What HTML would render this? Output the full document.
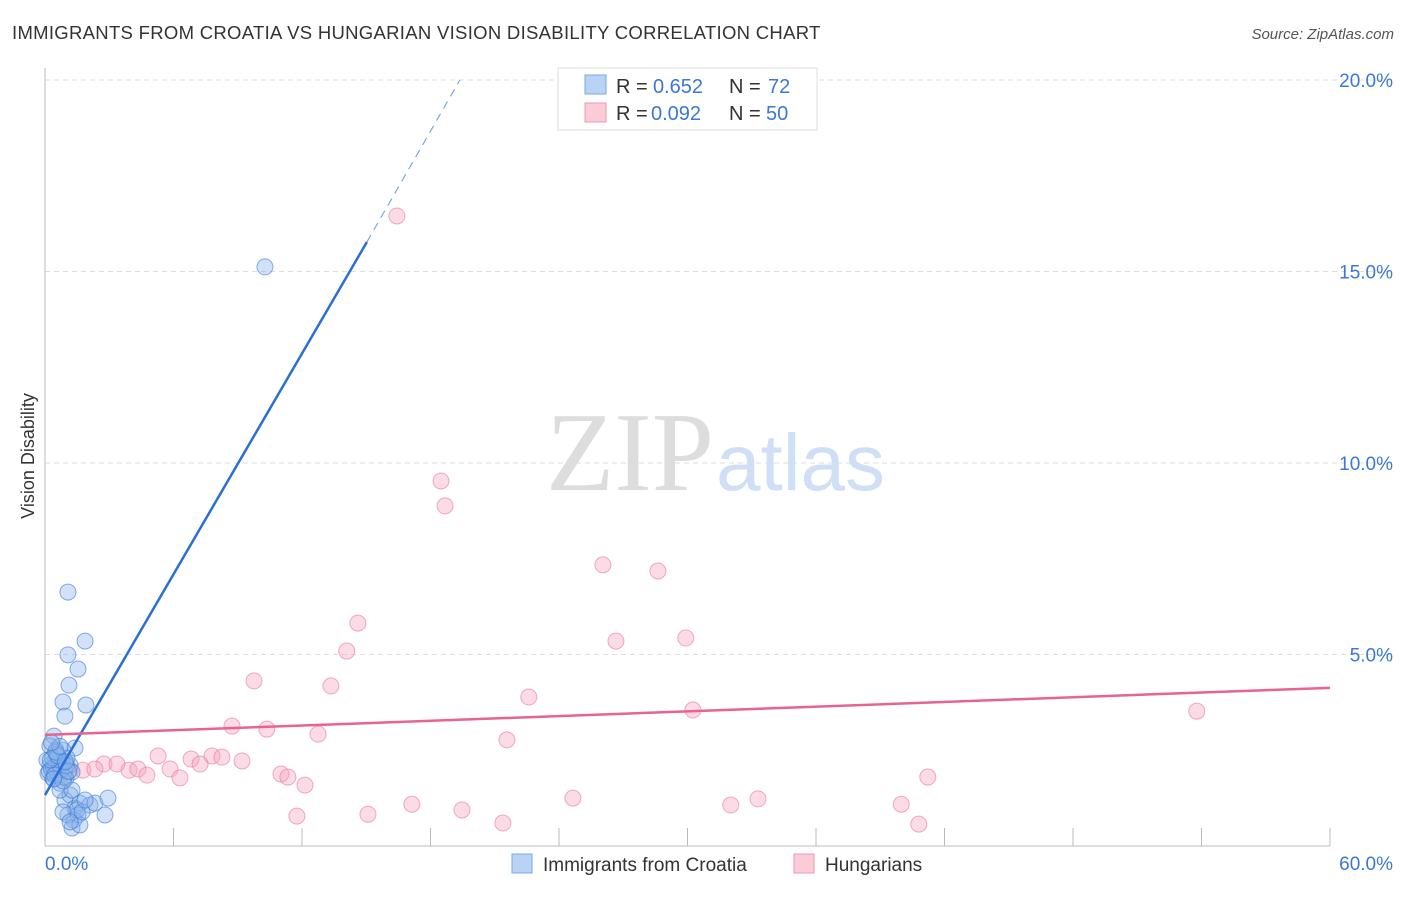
<!DOCTYPE html>
<html><head><meta charset="utf-8"><style>
body{margin:0;background:#fff;font-family:"Liberation Sans",sans-serif;}
svg text{font-family:"Liberation Sans",sans-serif;}
</style></head><body>
<svg id="chart" width="1406" height="892" xmlns="http://www.w3.org/2000/svg">
<text x="12" y="39" font-size="18.5" fill="#333" letter-spacing="0.3">IMMIGRANTS FROM CROATIA VS HUNGARIAN VISION DISABILITY CORRELATION CHART</text>
<text x="1394" y="39" font-size="15" fill="#555" font-style="italic" text-anchor="end">Source: ZipAtlas.com</text>
<text x="34" y="456" font-size="18" fill="#333" transform="rotate(-90 34 456)" text-anchor="middle">Vision Disability</text>
<g id="grid"></g>
<text x="714" y="490" font-size="112" fill="#ddd" text-anchor="end" style="font-family:'Liberation Serif',serif">ZIP</text>
<text x="716" y="490" font-size="80" fill="#cfdff5">atlas</text>
<g id="pts"></g>
<g id="lines"></g>
<g>
<rect x="558" y="68" width="259" height="62" fill="#fff" stroke="#ddd"/>
<rect x="585" y="75" width="21" height="19" fill="#b9d3f5" stroke="#7aa7e3"/>
<rect x="585" y="103" width="21" height="19" fill="#fbcbd8" stroke="#ef9ab3"/>
<text x="616" y="93" font-size="20" fill="#333">R =</text>
<text x="653" y="93" font-size="20" fill="#3a78d6">0.652</text>
<text x="729" y="93" font-size="20" fill="#333">N =</text>
<text x="768" y="93" font-size="20" fill="#3a78d6">72</text>
<text x="616" y="120" font-size="20" fill="#333">R =</text>
<text x="651" y="120" font-size="20" fill="#3a78d6">0.092</text>
<text x="729" y="120" font-size="20" fill="#333">N =</text>
<text x="766" y="120" font-size="20" fill="#3a78d6">50</text>
</g>
<g>
<rect x="512" y="854" width="20" height="19" fill="#b9d3f5" stroke="#7aa7e3"/>
<text x="543" y="871" font-size="19" fill="#333">Immigrants from Croatia</text>
<rect x="794" y="854" width="20" height="19" fill="#fbcbd8" stroke="#ef9ab3"/>
<text x="825" y="871" font-size="19" fill="#333">Hungarians</text>
</g>
</svg>
<script>
const yTicks=[5,10,15,20];
const yTickLabels=["5.0%","10.0%","15.0%","20.0%"];
const xTickLabels=["0.0%","60.0%"];
const blueX=[10.27,1.07,1.87,1.07,1.54,1.12,1.91,0.84,0.93,0.42,1.4,0.84,0.23,0.33,0.47,0.61,0.70,0.79,0.93,1.17,0.14,0.37,0.56,1.03,1.26,0.09,0.51,0.70,0.98,0.23,0.93,1.17,1.40,1.63,1.54,1.35,1.07,1.26,1.63,2.1,2.33,2.94,2.80,1.49,1.73,0.84,1.17,1.87,0.70,1.26,0.3,0.5,0.6,0.8,0.4,0.2,0.65,0.9,0.35,0.55,0.75,1.0,0.45,0.25,0.6,0.85,1.1,0.5,0.7,0.3,0.95,0.4];
const blueY=[15.12,6.63,5.35,4.99,4.62,4.20,3.68,3.76,3.39,2.87,2.56,2.50,2.11,1.98,2.24,2.03,1.85,2.19,1.98,2.11,1.90,1.77,2.37,2.29,1.93,2.24,2.50,1.64,1.77,2.61,1.20,1.33,0.99,1.12,0.81,0.68,0.81,0.47,0.55,1.07,1.12,1.25,0.81,0.94,0.89,0.89,0.63,1.20,1.46,1.46,2.0,2.1,1.9,2.2,2.05,1.95,2.15,1.8,2.3,2.4,2.0,2.1,1.85,2.25,2.35,1.7,1.95,2.45,2.6,2.7,2.2,1.75];
const redX=[16.43,18.49,18.68,26.05,28.62,14.61,26.66,29.92,14.09,9.76,13.35,22.59,30.25,53.78,8.73,10.36,12.75,21.57,5.28,6.82,7.80,8.26,9.20,2.75,3.36,3.92,4.34,4.76,5.84,6.30,7.24,1.77,2.33,0.70,11.02,11.34,12.14,41.22,17.13,19.47,24.65,32.02,33.29,39.98,11.76,15.08,21.38,40.80,0.47,1.17];
const redY=[16.45,9.53,8.88,7.34,7.18,5.82,5.35,5.43,5.09,4.31,4.18,3.89,3.55,3.52,3.13,3.05,2.92,2.77,2.35,2.27,2.35,2.32,2.22,2.14,2.14,1.98,2.01,1.85,2.01,1.78,2.14,1.98,2.01,2.14,1.88,1.80,1.59,1.80,1.09,0.94,1.25,1.07,1.23,1.09,0.78,0.83,0.60,0.57,2.03,1.98];
const blueLine=[0,1.33,15.03,15.77,19.37,20.0];
const redLine=[0,2.9,60,4.13];
const X=v=>45+v/60*1285, Y=v=>846-v*38.3;
const NS="http://www.w3.org/2000/svg";
function mk(p,t,a){const e=document.createElementNS(NS,t);for(const k in a)e.setAttribute(k,a[k]);p.appendChild(e);return e;}
const grid=document.getElementById('grid');
yTicks.forEach((t,i)=>{
  const l=mk(grid,'line',{x1:45,x2:1393,y1:Y(t),y2:Y(t),stroke:'#ddd','stroke-dasharray':'5,4'});
  
  
  const tx=mk(grid,'text',{x:1393,y:Y(t)+7,'font-size':19,fill:'#3a78d6','text-anchor':'end'});
  tx.textContent=yTickLabels[i];
  
  
});
const ax=mk(grid,'line',{x1:45,x2:45,y1:68,y2:846,stroke:'#bbb'});


const bx=mk(grid,'line',{x1:45,x2:1330,y1:846,y2:846,stroke:'#bbb'});


for(let i=0;i<=10;i++){
  const t=mk(grid,'line',{x1:X(i*6),x2:X(i*6),y1:828,y2:846,stroke:'#bbb'});
  
  
}
[[0,45,'start'],[60,1393,'end']].forEach((d,i)=>{
  const t=mk(grid,'text',{x:d[1],y:870,'font-size':19,fill:'#3a78d6','text-anchor':d[2]});
  t.textContent=xTickLabels[i];
  
  
});
const pts=document.getElementById('pts');
redX.forEach((x,i)=>{
  const c=mk(pts,'circle',{cx:X(x),cy:Y(redY[i]),r:8,fill:'rgba(246,165,190,0.4)',stroke:'rgba(232,120,155,0.6)','stroke-width':1});
  
  
});
blueX.forEach((x,i)=>{
  const c=mk(pts,'circle',{cx:X(x),cy:Y(blueY[i]),r:8,fill:'rgba(140,180,235,0.4)',stroke:'rgba(60,120,210,0.6)','stroke-width':1});
  
  
});
const lines=document.getElementById('lines');
const b1=mk(lines,'line',{x1:X(blueLine[0]),y1:Y(blueLine[1]),x2:X(blueLine[2]),y2:Y(blueLine[3]),stroke:'#2a6fd6','stroke-width':2.5});


const b2=mk(lines,'line',{x1:X(blueLine[2]),y1:Y(blueLine[3]),x2:X(blueLine[4]),y2:Y(blueLine[5]),stroke:'#7aa7e3','stroke-width':1.2,'stroke-dasharray':'8,6'});


const r1=mk(lines,'line',{x1:X(redLine[0]),y1:Y(redLine[1]),x2:X(redLine[2]),y2:Y(redLine[3]),stroke:'#e8648f','stroke-width':2.5});


</script>
</body></html>
